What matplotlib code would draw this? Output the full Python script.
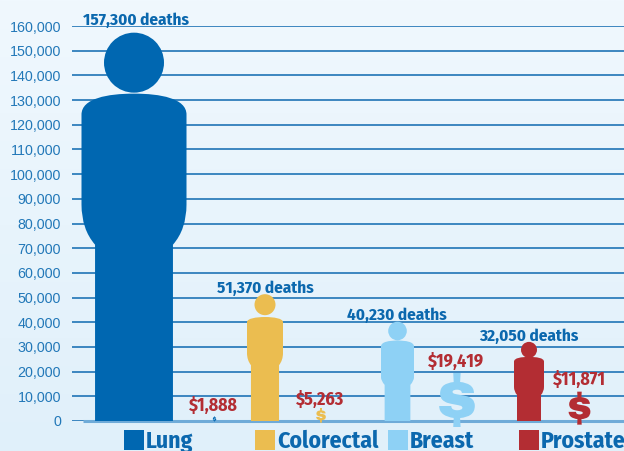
import matplotlib
matplotlib.use("Agg")
import matplotlib.pyplot as plt
import numpy as np
from matplotlib.patches import PathPatch, Rectangle
from matplotlib.path import Path
from matplotlib.textpath import TextPath
from matplotlib.font_manager import FontProperties
from matplotlib.ticker import FuncFormatter

cancers = ["Lung", "Colorectal", "Breast", "Prostate"]
deaths = [157300, 51370, 40230, 32050]
funding = [1888, 5263, 19419, 11871]
colors = ["#0067b1", "#ebbd50", "#8ed1f5", "#b32d33"]

y_ticks = list(range(0, 160001, 10000))

# layout, x is in pixels of the picture
person_x = [134, 265, 397.5, 529]
person_w = [105, 36, 33, 30]
head_r = [30, 10.5, 9.3, 8]
shoulder = [0.843, 0.82, 0.81, 0.81]
side_top = [0.789, 0.78, 0.75, 0.75]
side_bot = [0.557, 0.535, 0.44, 0.43]
leg_top = [0.454, 0.44, 0.364, 0.33]
leg_half = [0.371, 0.39, 0.39, 0.40]
dollar_x = [214.5, 321, 457, 579.5]
death_label_x = [136, 265, 397, 529]
death_label_y = [160500, 51900, 40900, 32450]
money_label_x = [213, 320, 456, 579]
money_label_y = [3900, 6400, 21800, 14400]
legend_x = [124, 255, 388, 519]

narrow = ["Fira Sans Condensed", "Roboto Condensed", "Liberation Sans"]
blue_text = "#0b68ae"
red_text = "#b32d33"
per_px = 160000 / 395


def person_path(i):
    x, w, h = person_x[i], person_w[i], deaths[i]
    lh, lt, sb, st, sh = leg_half[i], leg_top[i], side_bot[i], side_top[i], shoulder[i]
    body = [(-lh, 0), (lh, 0), (lh, lt),
            (0.5, lt + 0.04), (0.5, sb), (0.5, st),
            (0.5, sh - 0.012), (0.25, sh), (0, sh),
            (-0.25, sh), (-0.5, sh - 0.012), (-0.5, st),
            (-0.5, sb), (-0.5, lt + 0.04), (-lh, lt), (-lh, 0)]
    codes = [Path.MOVETO, Path.LINETO, Path.LINETO,
             Path.CURVE3, Path.CURVE3, Path.LINETO,
             Path.CURVE4, Path.CURVE4, Path.CURVE4,
             Path.CURVE4, Path.CURVE4, Path.CURVE4,
             Path.LINETO, Path.CURVE3, Path.CURVE3, Path.CLOSEPOLY]
    verts = np.array(body, dtype=float)
    verts[:, 0] = x + verts[:, 0] * w
    verts[:, 1] = verts[:, 1] * h
    circle = Path.unit_circle()
    head = circle.vertices.copy()
    head[:, 0] = x + head[:, 0] * head_r[i]
    head[:, 1] = h + (head[:, 1] - 1) * head_r[i] * per_px
    return Path(np.vstack([verts, head]), codes + list(circle.codes))


fig = plt.figure(figsize=(6.24, 4.51), dpi=100)

bg = fig.add_axes([0, 0, 1, 1], zorder=0)
bg.imshow(np.linspace(0, 1, 256).reshape(-1, 1), aspect="auto",
          cmap=matplotlib.colors.LinearSegmentedColormap.from_list("bg", ["#f0f8fe", "#e0f0fa"]))
bg.axis("off")

ax = fig.add_axes([72 / 624, 30 / 451, 552 / 624, 395 / 451], zorder=1)
ax.patch.set_alpha(0)
ax.set_xlim(72, 624)
ax.set_ylim(0, 160000)
ax.set_yticks(y_ticks)
ax.yaxis.set_major_formatter(FuncFormatter(lambda v, p: f"{int(v):,}"))
ax.set_xticks([])
ax.tick_params(axis="y", length=0, pad=8, labelsize=10.3, labelcolor="#2278b8")
for label in ax.get_yticklabels():
    label.set_family("Liberation Sans")
for s in ax.spines.values():
    s.set_visible(False)
ax.grid(axis="y", color="#1f74b6", lw=1.2, zorder=1)
ax.set_axisbelow(True)
ax.hlines(0, 83, 624, color="#6fabd8", lw=2.2, zorder=1.5, clip_on=False)

heavy = FontProperties(family=["Archivo Black", "Liberation Sans"], weight="bold")

for i, name in enumerate(cancers):
    ax.add_patch(PathPatch(person_path(i), fc=colors[i], ec="none", zorder=3, clip_on=False))
    ax.text(death_label_x[i], death_label_y[i], f"{deaths[i]:,} deaths", ha="center", va="baseline",
            fontsize=12.3, color=blue_text, family=narrow, weight="bold", zorder=4, clip_on=False)

    # dollar sign, height follows the funding value
    tp = TextPath((0, 0), "$", size=1, prop=heavy)
    bb = tp.get_extents()
    h_val = funding[i] * 1.126
    w_px = h_val / per_px * 0.66
    v = tp.vertices.copy()
    v[:, 0] = dollar_x[i] + (v[:, 0] - bb.x0 - bb.width / 2) / bb.width * w_px
    v[:, 1] = -funding[i] * 0.125 + (v[:, 1] - bb.y0) / bb.height * h_val
    ax.add_patch(PathPatch(Path(v, tp.codes), fc=colors[i], ec="none", zorder=3, clip_on=False))
    ax.text(money_label_x[i], money_label_y[i], f"${funding[i]:,}", ha="center", va="baseline",
            fontsize=13, color=red_text, family=narrow, weight="bold", zorder=4, clip_on=False)

    # legend row under the axis
    ax.add_patch(Rectangle((legend_x[i], -9 * per_px), 20, -20 * per_px, fc=colors[i], ec="none", clip_on=False))
    ax.text(legend_x[i] + 22, -27 * per_px, name, ha="left", va="baseline",
            fontsize=17, color=blue_text, family=narrow, weight="bold", clip_on=False)

fig.savefig("out.png", dpi=100)
